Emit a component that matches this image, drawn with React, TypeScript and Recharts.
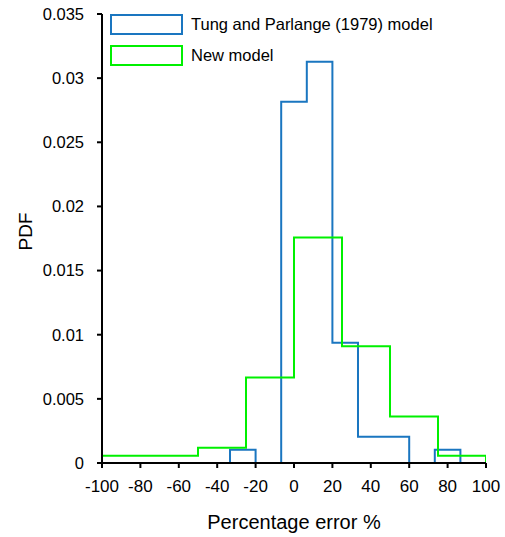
import React from 'react';
import { LineChart, Line, XAxis, YAxis, Legend, Label } from 'recharts';

const blueEdges = [-100, -86.67, -73.33, -60, -46.67, -33.33, -20, -6.67, 6.67, 20, 33.33, 46.67, 60, 73.33, 86.67, 100];
const blueDensity = [0, 0, 0, 0, 0, 0.00103, 0, 0.02816, 0.03127, 0.00937, 0.00204, 0.00204, 0, 0.00103, 0];

const greenEdges = [-100, -75, -50, -25, 0, 25, 50, 75, 100];
const greenDensity = [0.00056, 0.00056, 0.00118, 0.00666, 0.01758, 0.0091, 0.00362, 0.00056];

const xTicks = [-100, -80, -60, -40, -20, 0, 20, 40, 60, 80, 100];
const yTicks = [0, 0.005, 0.01, 0.015, 0.02, 0.025, 0.03, 0.035];

const seriesNames = ['Tung and Parlange (1979) model', 'New model'];
const seriesColors = ['#1a76c0', '#00f000'];

function buildSteps(edges: number[], dens: number[]) {
  const pts: { x: number; y: number }[] = [{ x: edges[0], y: 0 }];
  for (let i = 0; i < dens.length; i++) pts.push({ x: edges[i], y: dens[i] });
  pts.push({ x: edges[edges.length - 1], y: 0 });
  return pts;
}

const bluePoints = buildSteps(blueEdges, blueDensity);
const greenPoints = buildSteps(greenEdges, greenDensity);

const FONT = '"Liberation Sans", Arial, sans-serif';

const renderLegend = (props: any) => {
  const payload = [...(props.payload || [])].sort(
    (a: any, b: any) => seriesNames.indexOf(a.value) - seriesNames.indexOf(b.value)
  );
  return (
    <div style={{ fontFamily: FONT }}>
      {payload.map((p: any, i: number) => (
        <div key={i} style={{ display: 'flex', alignItems: 'center', height: 21, marginBottom: 10 }}>
          <span
            style={{
              display: 'inline-block',
              boxSizing: 'border-box',
              width: 73,
              height: 21,
              border: `2px solid ${p.color}`,
              background: '#fff',
              marginRight: 8,
            }}
          />
          <span style={{ fontSize: 16.5, color: '#000', lineHeight: '21px' }}>{p.value}</span>
        </div>
      ))}
    </div>
  );
};

export default function App() {
  return (
    <div style={{ position: 'absolute', left: 0, top: 0, background: '#fff' }}>
      <LineChart width={505} height={537} margin={{ top: 14, right: 19, bottom: 0, left: 0 }}>
        <XAxis
          dataKey="x"
          type="number"
          domain={[-100, 100]}
          ticks={xTicks}
          allowDataOverflow
          height={74}
          axisLine={{ stroke: '#000', strokeWidth: 2 }}
          tickLine={{ stroke: '#000', strokeWidth: 2 }}
          tickSize={5}
          tickMargin={12}
          interval={0}
          tick={{ fill: '#000', fontSize: 17, fontFamily: FONT }}
        >
          <Label
            content={() => (
              <text x={294} y={529} textAnchor="middle" fontSize={20} fontFamily={FONT} fill="#000">
                Percentage error %
              </text>
            )}
          />
        </XAxis>
        <YAxis
          type="number"
          domain={[0, 0.035]}
          ticks={yTicks}
          width={102}
          axisLine={{ stroke: '#000', strokeWidth: 2 }}
          tickLine={{ stroke: '#000', strokeWidth: 2 }}
          tickSize={5}
          tickMargin={13}
          interval={0}
          tickFormatter={(v: number) => String(v)}
          tick={{ fill: '#000', fontSize: 16.5, fontFamily: FONT }}
        >
          <Label
            content={() => (
              <text
                x={0}
                y={0}
                transform="translate(32,231.5) rotate(-90)"
                textAnchor="middle"
                fontSize={19}
                fontFamily={FONT}
                fill="#000"
              >
                PDF
              </text>
            )}
          />
        </YAxis>
        <Legend
          layout="vertical"
          align="center"
          verticalAlign="middle"
          content={renderLegend}
          wrapperStyle={{ position: 'absolute', left: 110, top: 14, width: 340, height: 62 }}
        />
        <Line
          data={bluePoints}
          dataKey="y"
          name={seriesNames[0]}
          type="stepAfter"
          stroke={seriesColors[0]}
          strokeWidth={2}
          dot={false}
          activeDot={false}
          isAnimationActive={false}
        />
        <Line
          data={greenPoints}
          dataKey="y"
          name={seriesNames[1]}
          type="stepAfter"
          stroke={seriesColors[1]}
          strokeWidth={2}
          dot={false}
          activeDot={false}
          isAnimationActive={false}
        />
      </LineChart>
    </div>
  );
}
